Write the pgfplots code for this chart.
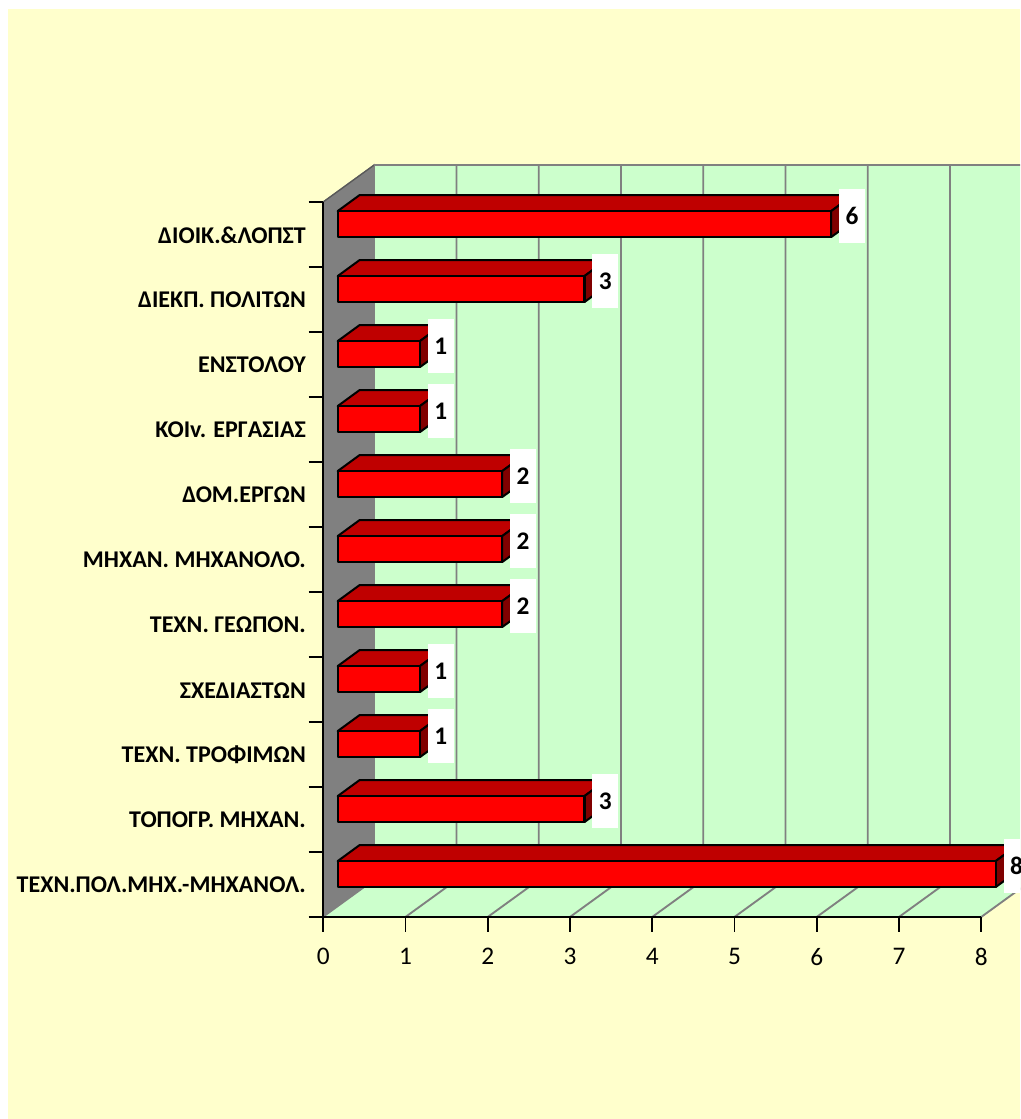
\documentclass[border=0pt]{standalone}
\usepackage{fontspec}
\setmainfont{Carlito}
\usepackage{pgfplots}
\usepackage{pgfplotstable}
\pgfplotsset{compat=1.18}

\definecolor{panel}{HTML}{FFFFCC}
\definecolor{floorwall}{HTML}{CCFFCC}
\definecolor{sidewall}{HTML}{808080}
\definecolor{barfront}{HTML}{FF0000}
\definecolor{bartop}{HTML}{BF0000}
\definecolor{barside}{HTML}{800000}

% Staff per department, row 0 at the bottom of the chart
\pgfplotstableread{
pos value
0   8
1   3
2   1
3   1
4   2
5   2
6   2
7   1
8   1
9   3
10  6
}\stafftable

% Depth of the wall and of the bars, in axis units
\def\walldx{0.62}
\def\walldy{0.569}
\def\barinset{0.176}
\def\barlow{0.46}
\def\barhigh{0.86}
\def\bardx{0.265}
\def\bardy{0.245}

\newcommand{\threedbar}[1]{%
  \pgfplotstablegetelem{#1}{value}\of\stafftable
  \pgfmathsetmacro{\xa}{\barinset}%
  \pgfmathsetmacro{\xb}{\pgfplotsretval+\barinset}%
  \pgfmathsetmacro{\xc}{\xa+\bardx}%
  \pgfmathsetmacro{\xd}{\xb+\bardx}%
  \pgfmathsetmacro{\ya}{#1+\barlow}%
  \pgfmathsetmacro{\yb}{#1+\barhigh}%
  \pgfmathsetmacro{\yc}{\ya+\bardy}%
  \pgfmathsetmacro{\yd}{\yb+\bardy}%
  \addplot[fill=bartop,draw=black,line width=1.5pt,line join=round]
    coordinates {(\xa,\yb) (\xc,\yd) (\xd,\yd) (\xb,\yb)} --cycle;
  \addplot[fill=barside,draw=black,line width=1.5pt,line join=round]
    coordinates {(\xb,\ya) (\xb,\yb) (\xd,\yd) (\xd,\yc)} --cycle;
  \addplot[fill=barfront,draw=black,line width=1.7pt,line join=round]
    coordinates {(\xa,\ya) (\xa,\yb) (\xb,\yb) (\xb,\ya)} --cycle;
}

\begin{document}
\begin{tikzpicture}[x=1pt,y=1pt]
  \clip[use as bounding box] (0,0) rectangle (765,839.25);
  \fill[white] (0,0) rectangle (765,839.25);
  \fill[panel] (6,0) rectangle (765,832.5);
  \begin{axis}[
      at={(242.4pt,151.5pt)}, anchor=origin,
      scale only axis, width=493.5pt, height=536.25pt,
      xmin=0, xmax=8, ymin=0, ymax=11,
      clip=false, axis on top,
      axis x line=bottom, axis y line=left,
      axis line style={-, line width=1.4pt, black},
      tick align=outside, major tick length=11pt,
      tick style={line width=1.4pt, black},
      xtick={0,...,8},
      ytick={0,...,11}, yticklabels={},
      /pgf/number format/assume math mode=true,
      xticklabel style={font=\fontsize{19}{21}\selectfont, yshift=-9pt},
      extra y ticks={0.5,1.5,2.5,3.5,4.5,5.5,6.5,7.5,8.5,9.5,10.5},
      extra y tick labels={ΤΕΧΝ.ΠΟΛ.ΜΗΧ.-ΜΗΧΑΝΟΛ.,ΤΟΠΟΓΡ. ΜΗΧΑΝ.,ΤΕΧΝ. ΤΡΟΦΙΜΩΝ,ΣΧΕΔΙΑΣΤΩΝ,ΤΕΧΝ. ΓΕΩΠΟΝ.,ΜΗΧΑΝ. ΜΗΧΑΝΟΛΟ.,ΔΟΜ.ΕΡΓΩΝ,ΚΟΙv. ΕΡΓΑΣΙΑΣ,ΕΝΣΤΟΛΟΥ,ΔΙΕΚΠ. ΠΟΛΙΤΩΝ,ΔΙΟΙΚ.\&ΛΟΠΣΤ},
      extra y tick style={
        tick style={draw=none},
        yticklabel style={font=\fontsize{18}{20}\bfseries, anchor=east, xshift=1.5pt, yshift=-0.5pt},
      },
    ]
    % side wall and back wall with floor
    \addplot[fill=floorwall,draw=none]
      coordinates {(0,0) (8,0) (8.7,0.635) (8.7,11.569) (\walldx,11.569) (\walldx,\walldy)} --cycle;
    \addplot[fill=sidewall,draw=sidewall,line width=1pt]
      coordinates {(0,0) (\walldx,\walldy) (\walldx,11.569) (0,11)} --cycle;
    \addplot[black!65,line width=1pt]
      coordinates {(0,11) (\walldx,11.569)};
    \addplot[sidewall,line width=1.4pt]
      coordinates {(\walldx,11.569) (8.7,11.569)};
    % gridlines on the back wall and their continuation on the floor
    \pgfplotsinvokeforeach{1,...,8}{
      \addplot[sidewall,line width=1.4pt]
        coordinates {(#1+0.62,11.569) (#1+0.62,0.569) (#1,0)};
    }
    % bars
    \pgfplotsinvokeforeach{0,...,10}{\threedbar{#1}}
    % value labels on white boxes
    \addplot[draw=none, mark=none,
      point meta=explicit symbolic,
      nodes near coords,
      nodes near coords style={
        anchor=center, fill=white, inner sep=0pt,
        minimum width=19.5pt, minimum height=40.5pt,
        font=\fontsize{19}{21}\bfseries, text=black,
      },
    ] table[x expr=\thisrow{value}+0.431, y expr=\thisrow{pos}+0.783, meta=value] {\stafftable};
  \end{axis}
\end{tikzpicture}
\end{document}
